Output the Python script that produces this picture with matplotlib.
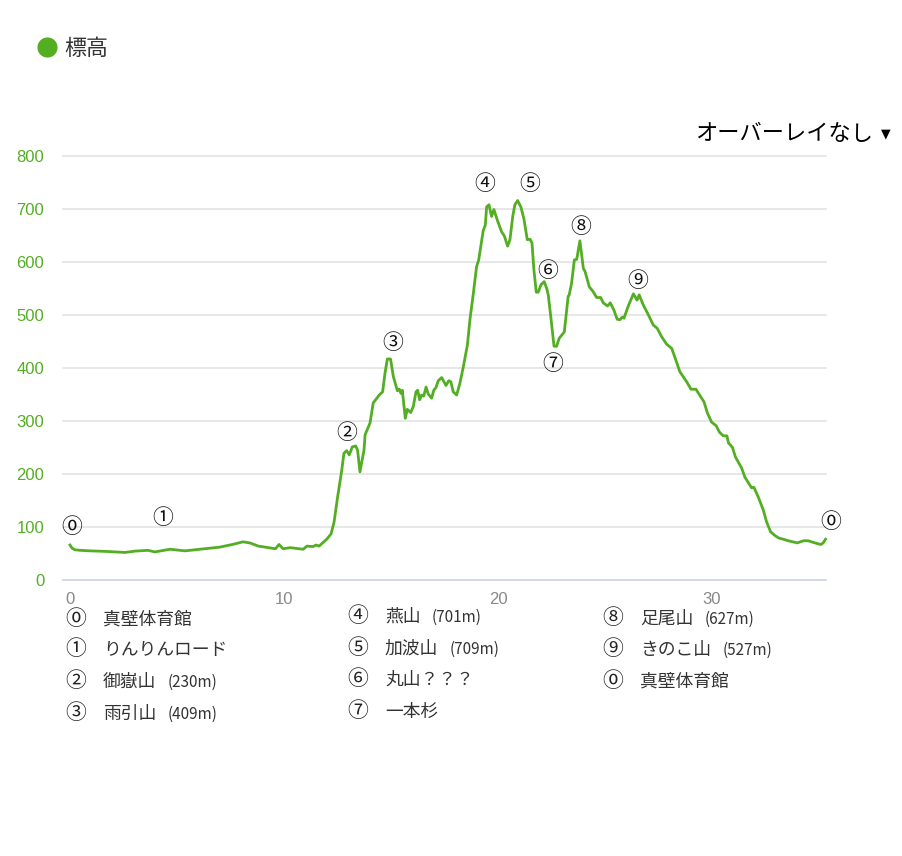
import matplotlib
matplotlib.use('Agg')
import matplotlib.pyplot as plt

plt.rcParams['font.family'] = ['Noto Sans CJK JP', 'DejaVu Sans']

W, H = 903, 856
GREEN = '#53ae23'

# elevation profile
dist = [0, 0.1, 0.23, 0.47, 0.93, 1.64, 2.1, 2.57, 3.04, 3.64, 3.97, 4.67, 5.37, 6.07, 7.0, 7.7, 8.08, 8.4, 8.8,
	9.6, 9.77, 9.95, 10.3, 10.9, 11.07, 11.35, 11.5, 11.64, 12.0, 12.2, 12.34, 12.5, 12.7, 12.8, 12.93, 13.05,
	13.19, 13.35, 13.44, 13.55, 13.74, 13.79, 14.02, 14.17, 14.3, 14.45, 14.61, 14.72, 14.83, 14.98, 15.11,
	15.3, 15.39, 15.47, 15.53, 15.67, 15.76, 15.92, 16.04, 16.17, 16.25, 16.34, 16.43, 16.53, 16.64, 16.74,
	16.9, 17.0, 17.1, 17.21, 17.37, 17.57, 17.7, 17.8, 17.91, 18.07, 18.22, 18.38, 18.57, 18.69, 18.85, 19.0,
	19.1, 19.22, 19.31, 19.41, 19.47, 19.58, 19.7, 19.81, 19.97, 20.17, 20.3, 20.45, 20.56, 20.69, 20.79,
	20.92, 21.07, 21.21, 21.37, 21.5, 21.59, 21.68, 21.79, 21.88, 22.01, 22.16, 22.28, 22.35, 22.46, 22.62,
	22.74, 22.86, 23.1, 23.28, 23.33, 23.44, 23.57, 23.68, 23.83, 23.99, 24.07, 24.27, 24.45, 24.61, 24.8,
	24.92, 25.12, 25.25, 25.42, 25.57, 25.7, 25.81, 25.89, 26.09, 26.33, 26.5, 26.6, 26.79, 27.02, 27.26,
	27.44, 27.65, 27.88, 28.12, 28.27, 28.5, 28.82, 29.02, 29.25, 29.44, 29.63, 29.78, 29.98, 30.2, 30.35,
	30.53, 30.7, 30.77, 30.96, 31.1, 31.39, 31.54, 31.85, 31.96, 32.16, 32.4, 32.55, 32.74, 32.94, 33.13,
	33.33, 33.57, 33.99, 34.27, 34.5, 34.81, 35.09, 35.2, 35.31]
elev = [66, 60, 57, 56, 55, 54, 53, 52, 54.5, 56, 53, 58, 55, 58, 62, 68, 72, 70, 64,
	59, 67, 59, 61, 58, 64, 63, 66, 64, 77, 87, 109, 155, 207, 239, 244, 236,
	251, 253, 245, 204, 245, 274, 296, 334, 341, 349, 355, 390, 417, 417, 384,
	357, 360, 352, 358, 305, 322, 316, 327, 355, 358, 340, 349, 347, 364, 351,
	343, 358, 363, 376, 382, 367, 376, 374, 355, 349, 371, 402, 443, 491, 541, 591,
	604, 636, 659, 670, 704, 708, 686, 699, 679, 657, 649, 630, 642, 686, 708,
	716, 704, 682, 642, 643, 636, 585, 543, 543, 557, 563, 550, 538, 500, 441,
	441, 456, 468, 535, 538, 560, 604, 605, 640, 588, 582, 553, 544, 533, 533,
	523, 517, 523, 509, 492, 491, 496, 494, 517, 540, 528, 538, 519, 501, 481,
	475, 459, 445, 437, 420, 393, 374, 360, 360, 348, 336, 316, 298, 291, 279,
	272, 272, 259, 250, 232, 211, 194, 174, 175, 157, 132, 110, 91, 84, 79,
	77, 74, 70, 74, 74, 70, 67, 70, 77]

y_ticks = [0, 100, 200, 300, 400, 500, 600, 700, 800]
x_ticks = [0, 10, 20, 30]

# the circled numbers over the line
mark_names = ['⓪', '①', '②', '③', '④', '⑤', '⑥', '⑦', '⑧', '⑨', '⓪']
mark_dist = [0.09, 4.35, 12.94, 15.09, 19.39, 21.5, 22.34, 22.57, 23.87, 26.54, 35.56]
mark_elev = [100, 117, 277, 447, 747, 747, 583, 408, 666, 564, 109]

# list under the chart
list_col1 = ['⓪', '①', '②', '③']
list_txt1 = ['真壁体育館', 'りんりんロード', '御嶽山', '雨引山']
list_alt1 = ['', '', '(230m)', '(409m)']
list_col2 = ['④', '⑤', '⑥', '⑦']
list_txt2 = ['燕山', '加波山', '丸山？？？', '一本杉']
list_alt2 = ['(701m)', '(709m)', '', '']
list_col3 = ['⑧', '⑨', '⓪']
list_txt3 = ['足尾山', 'きのこ山', '真壁体育館']
list_alt3 = ['(627m)', '(527m)', '']


def px(x, y):
	return x / W, 1 - y / H


fig = plt.figure(figsize=(W / 100, H / 100), dpi=100)
ax = fig.add_axes([63 / W, 1 - 580 / H, (826 - 63) / W, (580 - 156) / H])

ax.plot(dist, elev, color=GREEN, lw=2.0, solid_joinstyle='round', clip_on=False, zorder=3)
ax.set_xlim(-0.327, 35.33)
ax.set_ylim(0, 800)
ax.set_xticks(x_ticks)
ax.set_yticks(y_ticks)
ax.grid(axis='y', color='#e0e0e0', lw=1.1, clip_on=False)
ax.set_axisbelow(True)
for s in ['top', 'right', 'left']:
	ax.spines[s].set_visible(False)
ax.spines['bottom'].set_color('#ccd6eb')
ax.spines['bottom'].set_linewidth(1.1)
ax.tick_params(axis='both', length=0)
ax.tick_params(axis='x', pad=8.5, labelcolor='#888888', labelsize=12)
ax.tick_params(axis='y', pad=13.5, labelcolor=GREEN, labelsize=12)
for t in ax.get_xticklabels() + ax.get_yticklabels():
	t.set_family('Liberation Sans')

for i in range(len(mark_names)):
	ax.text(mark_dist[i], mark_elev[i], mark_names[i], fontsize=15, color='#111111',
		ha='center', va='center', clip_on=False)

# legend and overlay switch
fig.add_artist(plt.Line2D([47 / W], [1 - 47 / H], marker='o', ms=14.5, color=GREEN, mew=0))
fig.text(*px(64.5, 49), '標高', fontsize=15.8, color='#333333', va='center')
fig.text(*px(695.5, 133), 'オーバーレイなし', fontsize=16, color='black', va='center')
fig.text(*px(885.5, 133.5), '▼', fontsize=9, color='black', va='center', ha='center', family='DejaVu Sans')

y1 = [620, 650, 682, 714]
y2 = [617, 649, 680, 712]
y3 = [619, 650, 682]
for col, txt, alt, ys, x0, x1 in [(list_col1, list_txt1, list_alt1, y1, 76, 103),
		(list_col2, list_txt2, list_alt2, y2, 358, 385),
		(list_col3, list_txt3, list_alt3, y3, 613, 640)]:
	for i in range(len(col)):
		fig.text(*px(x0, ys[i] - 1), col[i], fontsize=15, color='#222222', ha='center', va='center')
		fig.text(*px(x1, ys[i]), txt[i], fontsize=12.8, color='#333333', va='center')
		# the bracketed height sits after the name, in a narrower size
		fig.text(*px(x1 + len(txt[i]) * 17.8 + 11, ys[i]), alt[i], fontsize=11, color='#333333', va='center')

fig.savefig('out.png', dpi=100)
